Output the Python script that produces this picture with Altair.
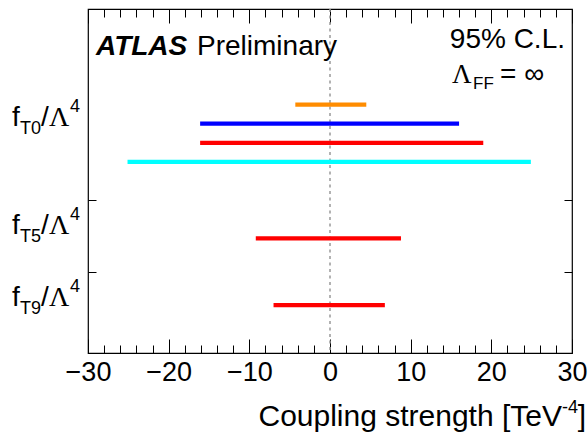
import altair as alt
import pandas as pd

# ---- data ----
operators = ["fT0", "fT0", "fT0", "fT0", "fT5", "fT9"]
series = ["s1", "s2", "s3", "s4", "s3", "s3"]
lower = [-4.3, -16.1, -16.1, -25.1, -9.2, -7.0]
upper = [4.5, 16.0, 19.0, 24.9, 8.8, 6.8]
row = [5, 6, 7, 8, 12, 15.5]

series_names = ["s1", "s2", "s3", "s4"]
series_colors = ["#ff8c00", "#0000ff", "#ff0000", "#00ffff"]

label_sub = ["T0", "T5", "T9"]
label_pos = [6.1, 11.75, 15.55]
boundaries = [10, 13.75]

major_ticks = [-30, -20, -10, 0, 10, 20, 30]
minor_ticks = [v for v in range(-28, 30, 2) if v % 10 != 0]
zero_line = [0]

W, H = 484, 344
FONT = "Liberation Sans"

df = pd.DataFrame(dict(op=operators, series=series, lo=lower, hi=upper, row=row))
labels = pd.DataFrame(dict(sub=label_sub, pos=label_pos))
zdf = pd.DataFrame(dict(x=zero_line))

xscale = alt.Scale(domain=[-30, 30], nice=False, zero=False)
yscale = alt.Scale(domain=[0, 18], reverse=True, nice=False, zero=False)

base = alt.Chart(df)

bars = base.mark_rule(strokeWidth=4.2, strokeCap="butt").encode(
    x=alt.X("lo:Q", scale=xscale,
            axis=alt.Axis(orient="bottom", values=major_ticks, ticks=False, tickSize=0,
                          domain=False, grid=False, labelFontSize=27, labelFont=FONT,
                          labelColor="black", labelPadding=27, labelBaseline="alphabetic",
                          labelFlush=False, title=None)),
    x2="hi:Q",
    y=alt.Y("row:Q", scale=yscale, axis=None),
    color=alt.Color("series:N", scale=alt.Scale(domain=series_names, range=series_colors),
                    legend=None),
)


def tick_layer(xorient, values, size, yorient=None):
    xaxis = alt.Axis(orient=xorient, offset=-H, values=values, tickSize=size, ticks=True,
                     labels=False, domain=False, grid=False, title=None,
                     tickColor="black", tickWidth=1)
    if yorient is None:
        yenc = alt.Y("row:Q", scale=yscale, axis=None)
    else:
        yenc = alt.Y("row:Q", scale=yscale,
                     axis=alt.Axis(orient=yorient, offset=-W, values=boundaries, tickSize=8,
                                   ticks=True, labels=False, domain=False, grid=False,
                                   title=None, tickColor="black", tickWidth=1))
    return base.mark_point(opacity=0).encode(
        x=alt.X("lo:Q", scale=xscale, axis=xaxis), y=yenc)


t1 = tick_layer("top", major_ticks, 14, "right")
t2 = tick_layer("bottom", major_ticks, 14, "left")
t3 = tick_layer("top", minor_ticks, 8)
t4 = tick_layer("bottom", minor_ticks, 8)

zero = alt.Chart(zdf).mark_rule(color="#999999", strokeWidth=1.5, strokeDash=[3, 3.5]).encode(
    x=alt.X("x:Q", scale=xscale, axis=None))

lab = alt.Chart(labels)
ly = alt.Y("pos:Q", scale=yscale, axis=None)
lab_f = lab.mark_text(text="f", font=FONT, fontSize=28, align="left", baseline="alphabetic",
                      color="black").encode(x=alt.value(-76), y=ly)
lab_sub = lab.mark_text(font=FONT, fontSize=18, align="left", baseline="alphabetic", dy=8,
                        color="black").encode(x=alt.value(-68), y=ly, text="sub:N")
lab_slash = lab.mark_text(text="/", font=FONT, fontSize=28, align="left", baseline="alphabetic",
                          color="black").encode(x=alt.value(-47), y=ly)
lab_L = lab.mark_text(text="Λ", font="Liberation Serif", fontSize=28, align="left",
                      baseline="alphabetic", color="black").encode(x=alt.value(-39), y=ly)
lab_4 = lab.mark_text(text="4", font=FONT, fontSize=18, align="left", baseline="alphabetic",
                      dy=-14, color="black").encode(x=alt.value(-18), y=ly)

one = pd.DataFrame(dict(k=[0]))


def note(text, x, y, size, align="left", font=FONT, **kw):
    return alt.Chart(one).mark_text(text=text, font=font, fontSize=size, align=align,
                                    baseline="alphabetic", color="black", **kw).encode(
        x=alt.value(x), y=alt.value(y))


notes = [
    note("ATLAS", 8, 46, 28, fontWeight="bold", fontStyle="italic"),
    note("Preliminary", 109, 46, 28),
    note("95% C.L.", 477, 39, 28, align="right"),
    note("Λ", 364, 74, 27, font="Liberation Serif"),
    note("FF", 385, 80, 17),
    note("= ∞", 412, 74, 28),
    note("]", 498, 417, 30, align="right"),
    note("-4", 490, 404, 18, align="right"),
    note("Coupling strength [TeV", 474, 417, 30, align="right"),
]

chart = alt.layer(
    zero, t1, t2, t3, t4, bars, lab_f, lab_sub, lab_slash, lab_L, lab_4, *notes
).resolve_axis(x="independent", y="independent").properties(
    width=W, height=H,
    padding={"left": 88, "top": 9, "right": 16, "bottom": 84},
    autosize=alt.AutoSizeParams(type="none"),
    background="white",
).configure_view(stroke="black", strokeWidth=1.2)

chart.save("out.html", embed_options={"renderer": "svg", "actions": False})
